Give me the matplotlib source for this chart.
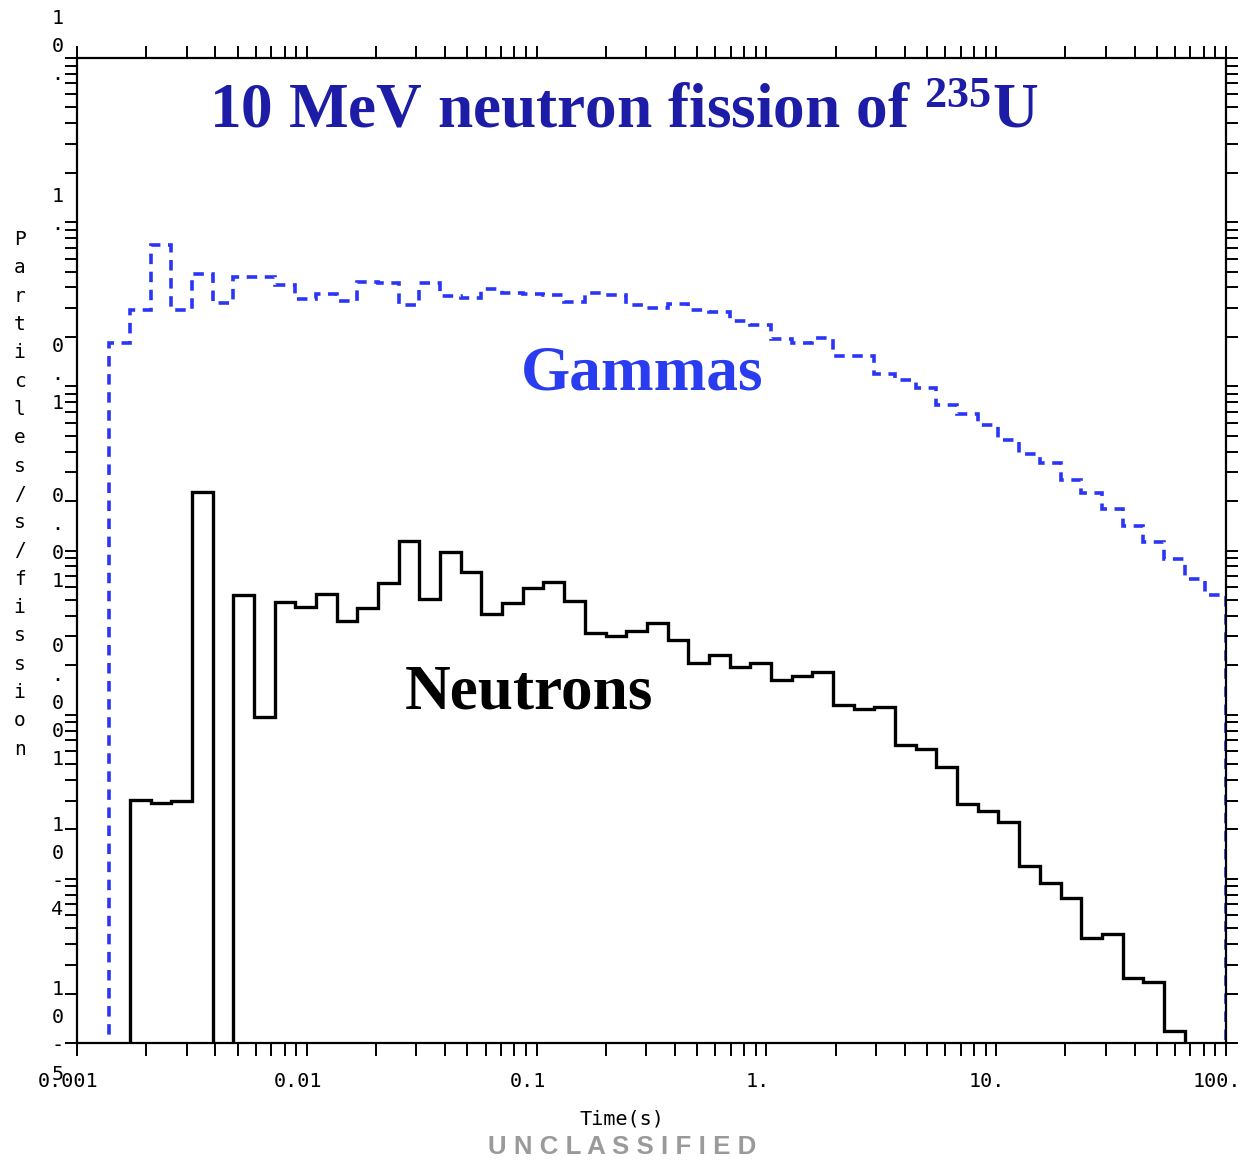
import numpy as np
import matplotlib
matplotlib.use("Agg")
import matplotlib.pyplot as plt
import matplotlib.transforms as mtransforms

# bins: log-spaced in time, 0.09 decade wide, ending at 100 s
time_edges = 10 ** np.linspace(-2.86, 2.0, 55)

# particles/s/fission per bin (0 = below the plotted range)
gammas = [0.183, 0.292, 0.726, 0.292, 0.482, 0.320, 0.466, 0.466, 0.414, 0.340,
          0.364, 0.332, 0.434, 0.428, 0.311, 0.424, 0.355, 0.344, 0.390, 0.369,
          0.365, 0.360, 0.328, 0.369, 0.360, 0.313, 0.301, 0.317, 0.292, 0.283,
          0.250, 0.236, 0.194, 0.183, 0.196, 0.153, 0.153, 0.119, 0.109, 0.098,
          0.077, 0.068, 0.058, 0.047, 0.0387, 0.0343, 0.0269, 0.0223, 0.0180, 0.0141,
          0.0113, 0.00888, 0.00668, 0.00536]

neutrons = [0, 3.02e-4, 2.90e-4, 2.98e-4, 2.28e-2, 0, 5.36e-3, 9.68e-4, 4.88e-3, 4.55e-3,
            5.41e-3, 3.72e-3, 4.48e-3, 6.31e-3, 1.143e-2, 5.07e-3, 9.75e-3, 7.43e-3, 4.11e-3, 4.77e-3,
            5.89e-3, 6.46e-3, 4.95e-3, 3.13e-3, 3.01e-3, 3.23e-3, 3.60e-3, 2.85e-3, 2.07e-3, 2.31e-3,
            1.96e-3, 2.07e-3, 1.63e-3, 1.72e-3, 1.83e-3, 1.145e-3, 1.083e-3, 1.119e-3, 6.54e-4, 6.18e-4,
            4.82e-4, 2.84e-4, 2.60e-4, 2.23e-4, 1.20e-4, 9.39e-5, 7.61e-5, 4.34e-5, 4.61e-5, 2.48e-5,
            2.34e-5, 1.19e-5, 0, 0]

xtick_vals = [0.001, 0.01, 0.1, 1, 10, 100]
xtick_labels = ["0.001", "0.01", "0.1", "1.", "10.", "100."]
ytick_vals = [10, 1, 0.1, 0.01, 0.001, 1e-4, 1e-5]
ytick_labels = ["10.", "1.", "0.1", "0.01", "0.001", "10-4", "10-5"]

MONO = "DejaVu Sans Mono"
SERIF = "Liberation Serif"
plt.rcParams["mathtext.fontset"] = "custom"
plt.rcParams["mathtext.rm"] = SERIF
plt.rcParams["mathtext.bf"] = SERIF + ":bold"

fig = plt.figure(figsize=(12.38, 11.6), dpi=100)
ax = fig.add_axes([77 / 1238, 1 - 1043 / 1160, 1149 / 1238, 985 / 1160])
ax.set_xscale("log")
ax.set_yscale("log")
ax.set_xlim(1e-3, 100)
ax.set_ylim(1e-5, 10)

floor = 1e-7  # somewhere under the bottom of the axis
g = np.array(gammas)
n = np.array(neutrons)
ax.stairs(g, time_edges, baseline=floor, color="#2a35f5", lw=2.6,
          ls=(0, (2.9, 2.1)))
ax.stairs(np.where(n > 0, n, floor), time_edges, baseline=None,
          color="black", lw=2.4)

# ticks on all four sides, pointing out
ax.tick_params(which="both", direction="out", top=True, right=True,
               length=9, width=1.4)
ax.tick_params(axis="x", which="major", pad=12)
ax.tick_params(axis="y", which="major", pad=5)
for side in ax.spines.values():
    side.set_linewidth(1.6)

ax.set_xticks(xtick_vals, xtick_labels)
ax.set_yticks(ytick_vals, ["\n".join(s) for s in ytick_labels])  # one char per line

# labels sit a bit left of / above their ticks like in the old plot
# (done after tick_params, which would reset the transforms)
shift_left = mtransforms.ScaledTranslation(-0.09, 0, fig.dpi_scale_trans)
shift_up = mtransforms.ScaledTranslation(0, 0.18, fig.dpi_scale_trans)
for lbl in ax.get_xticklabels():
    lbl.set_fontfamily(MONO)
    lbl.set_fontsize(14.5)
    lbl.set_transform(lbl.get_transform() + shift_left)
for lbl in ax.get_yticklabels():
    lbl.set_fontfamily(MONO)
    lbl.set_fontsize(14.5)
    lbl.set_linespacing(1.62)
    lbl.set_horizontalalignment("center")
    lbl.set_transform(lbl.get_transform() + shift_up)

ax.set_xlabel("Time(s)", fontfamily=MONO, fontsize=14.5)
ax.xaxis.set_label_coords(0.4743, -0.068)
ax.set_ylabel("\n".join("Particles/s/fission"), rotation=0, fontfamily=MONO,
              fontsize=14, linespacing=1.62, ha="center", va="center")
ax.yaxis.set_label_coords(-0.05, 0.557)

ax.text(0.386, 0.663, "Gammas", transform=ax.transAxes, fontfamily=SERIF,
        fontweight="bold", fontsize=45.5, color="#2a3cf0", va="baseline")
ax.text(0.2855, 0.340, "Neutrons", transform=ax.transAxes, fontfamily=SERIF,
        fontweight="bold", fontsize=45.5, color="black", va="baseline")

fig.text(624 / 1238, 1 - 127 / 1160, r"10 MeV neutron fission of $\mathbf{^{235}}$U",
         fontfamily=SERIF, fontweight="bold", fontsize=45.5, color="#1c1ca6",
         ha="center", va="baseline")
fig.text(622 / 1238, 1 - 1147 / 1160, "U N C L A S S I F I E D",
         fontfamily="Liberation Sans", fontweight="bold", fontsize=18.6,
         color="#9a9a9a", ha="center", va="center")

fig.savefig("out.png", dpi=100)
